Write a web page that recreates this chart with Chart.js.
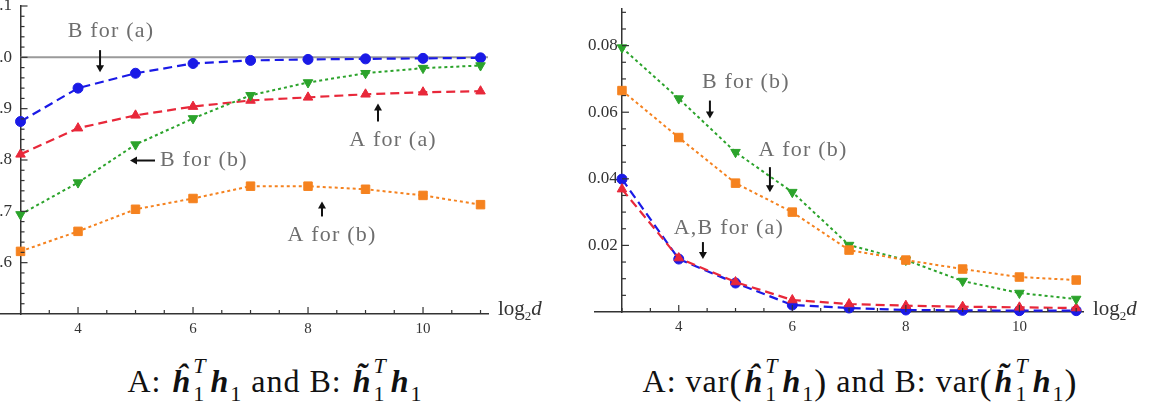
<!DOCTYPE html>
<html>
<head>
<meta charset="utf-8">
<title>h1 estimates vs log2 d</title>
<script src="https://cdn.jsdelivr.net/npm/chart.js@4.4.1/dist/chart.umd.min.js"></script>
<style>
  body { margin: 0; background: #fff; font-family: "Liberation Serif", "Times New Roman", serif; }
  #page { position: relative; width: 1149px; height: 406px; overflow: hidden; }
  .plot { position: absolute; top: 0; height: 345px; }
  #leftPlot { left: 0; width: 560px; }
  #rightPlot { left: 574px; width: 575px; }
  .axname { position: absolute; top: 298px; font-size: 21px; line-height: 21px; color: #333; white-space: nowrap; }
  .axname sub { font-size: 13px; }
  .cap { position: absolute; top: 352px; font-size: 32px; line-height: 30px; color: #111; white-space: nowrap; letter-spacing: 1px; transform: translateX(-50%); }
  .v { font-weight: bold; font-style: italic; margin-left: 2px; }
  .st { display: inline-block; vertical-align: -9px; font-size: 22px; line-height: 28px; margin-left: 2px; margin-right: 2px; }
  .st span { display: block; }
  .st .t { font-style: italic; }
  .sb { font-size: 22px; vertical-align: -9px; margin-left: 1px; }
  .par { font-size: 36px; vertical-align: -2px; font-weight: 300; }
</style>
</head>
<body>
<div id="page">
  <div class="plot" id="leftPlot"><canvas id="leftChart"></canvas></div>
  <div class="plot" id="rightPlot"><canvas id="rightChart"></canvas></div>
  <div class="axname" style="left:498px">log<sub>2</sub><i>d</i></div>
  <div class="axname" style="left:1093px">log<sub>2</sub><i>d</i></div>
  <div class="cap" style="left:275px">A: <span class="v">ĥ</span><span class="st"><span class="t">T</span><span>1</span></span><span class="v">h</span><span class="sb">1</span> and B: <span class="v">h̃</span><span class="st"><span class="t">T</span><span>1</span></span><span class="v">h</span><span class="sb">1</span></div>
  <div class="cap" style="left:860px">A: var<span class="par">(</span><span class="v">ĥ</span><span class="st"><span class="t">T</span><span>1</span></span><span class="v">h</span><span class="sb">1</span><span class="par">)</span> and B: var<span class="par">(</span><span class="v">h̃</span><span class="st"><span class="t">T</span><span>1</span></span><span class="v">h</span><span class="sb">1</span><span class="par">)</span></div>
</div>
<script>
// x 轴: log2 d
const log2d = [3, 4, 5, 6, 7, 8, 9, 10, 11];

// 左图: 内积均值
const meanAforA = [0.811, 0.862, 0.887, 0.904, 0.916, 0.922, 0.928, 0.932, 0.934];
const meanBforA = [0.875, 0.940, 0.969, 0.988, 0.994, 0.996, 0.997, 0.998, 0.999];
const meanAforB = [0.622, 0.661, 0.704, 0.725, 0.749, 0.749, 0.743, 0.731, 0.713];
const meanBforB = [0.694, 0.756, 0.830, 0.881, 0.926, 0.951, 0.969, 0.979, 0.984];

// 右图: 方差
const varAforA = [0.0369, 0.0162, 0.0090, 0.0036, 0.0024, 0.0019, 0.0016, 0.0014, 0.0012];
const varBforA = [0.0399, 0.0159, 0.0087, 0.0021, 0.0012, 0.0006, 0.0005, 0.0004, 0.0004];
const varAforB = [0.0665, 0.0524, 0.0387, 0.0300, 0.0186, 0.0156, 0.0129, 0.0105, 0.0096];
const varBforB = [0.0794, 0.0641, 0.0480, 0.0360, 0.0201, 0.0156, 0.0093, 0.0057, 0.0039];

// 刻度
const xTickValues = [4, 6, 8, 10];
const leftYTickValues = [0.6, 0.7, 0.8, 0.9, 1.0, 1.1];
const rightYTickValues = [0.02, 0.04, 0.06, 0.08];
const leftRefLine = 1.0;

const tickFont = { family: '"Liberation Serif", serif', size: 15 };
const yTickFont = { family: '"Liberation Serif", serif', size: 17 };
const axisColor = '#333';

function pts(ys) {
    return log2d.map((x, i) => ({ x: x, y: ys[i] }));
}

// 四条曲线的样式
function makeDatasets(aA, bA, aB, bB) {
    return [
        {
            label: 'A for (b)', data: pts(aB),
            borderColor: '#f5821f', backgroundColor: '#f5821f',
            borderWidth: 2, borderDash: [3, 3],
            pointStyle: 'rect', pointRadius: 6
        },
        {
            label: 'B for (b)', data: pts(bB),
            borderColor: '#2ba32b', backgroundColor: '#2ba32b',
            borderWidth: 2, borderDash: [3, 3],
            pointStyle: 'triangle', pointRotation: 180, pointRadius: 5.5
        },
        {
            label: 'A for (a)', data: pts(aA),
            borderColor: '#e8283a', backgroundColor: '#e8283a',
            borderWidth: 2.2, borderDash: [9, 5],
            pointStyle: 'triangle', pointRadius: 5.5
        },
        {
            label: 'B for (a)', data: pts(bA),
            borderColor: '#1a1ae6', backgroundColor: '#1a1ae6',
            borderWidth: 2.2, borderDash: [9, 5],
            pointStyle: 'circle', pointRadius: 5
        }
    ].map(d => Object.assign(d, { tension: 0, clip: false, fill: false, pointBorderWidth: 1 }));
}

// 向内的主/次刻度
const innerTicks = {
    id: 'innerTicks',
    afterDraw(chart, args, opts) {
        const { ctx, chartArea } = chart;
        const xs = chart.scales.x, ys = chart.scales.y;
        const x0 = xs.getPixelForValue(3);
        const yb = chartArea.bottom;
        ctx.save();
        ctx.strokeStyle = axisColor;
        ctx.lineWidth = 1.2;
        for (let k = Math.ceil(xs.min / 0.5); k * 0.5 <= xs.max; k++) {
            const v = k * 0.5;
            const p = xs.getPixelForValue(v);
            const major = v % 2 === 0;
            ctx.beginPath(); ctx.moveTo(p, yb); ctx.lineTo(p, yb - (major ? 7 : 4)); ctx.stroke();
        }
        const n = Math.round((ys.max - ys.min) / opts.yMinor);
        for (let k = 1; k <= n; k++) {
            const v = ys.min + k * opts.yMinor;
            const p = ys.getPixelForValue(v);
            const r = v / opts.yMajor;
            const major = Math.abs(r - Math.round(r)) < 1e-6;
            ctx.beginPath(); ctx.moveTo(x0, p); ctx.lineTo(x0 + (major ? 7 : 4), p); ctx.stroke();
        }
        ctx.restore();
    }
};

// 参考线 (y = 1)
const refLine = {
    id: 'refLine',
    beforeDatasetsDraw(chart, args, opts) {
        if (opts.value == null) return;
        const { ctx, chartArea } = chart;
        const p = chart.scales.y.getPixelForValue(opts.value);
        ctx.save();
        ctx.strokeStyle = '#9a9a9a';
        ctx.lineWidth = 2;
        ctx.beginPath();
        ctx.moveTo(chart.scales.x.getPixelForValue(3), p);
        ctx.lineTo(chartArea.right, p);
        ctx.stroke();
        ctx.restore();
    }
};

function drawArrow(ctx, x1, y1, x2, y2) {
    const a = Math.atan2(y2 - y1, x2 - x1);
    const hl = 7, hw = 4;
    ctx.beginPath(); ctx.moveTo(x1, y1);
    ctx.lineTo(x2 - Math.cos(a) * hl * 0.8, y2 - Math.sin(a) * hl * 0.8); ctx.stroke();
    ctx.beginPath();
    ctx.moveTo(x2, y2);
    ctx.lineTo(x2 - Math.cos(a) * hl - Math.sin(a) * hw, y2 - Math.sin(a) * hl + Math.cos(a) * hw);
    ctx.lineTo(x2 - Math.cos(a) * hl + Math.sin(a) * hw, y2 - Math.sin(a) * hl - Math.cos(a) * hw);
    ctx.closePath(); ctx.fill();
}

// 曲线标注
const notes = {
    id: 'notes',
    afterDatasetsDraw(chart, args, opts) {
        const { ctx } = chart;
        const xs = chart.scales.x, ys = chart.scales.y;
        ctx.save();
        ctx.font = '22px "Liberation Serif", serif';
        ctx.letterSpacing = '1.2px';
        ctx.fillStyle = '#6e6e6e';
        ctx.textBaseline = 'middle';
        opts.texts.forEach(t => {
            ctx.textAlign = t.align || 'center';
            ctx.fillText(t.text, xs.getPixelForValue(t.x), ys.getPixelForValue(t.y));
        });
        ctx.letterSpacing = '0px';
        ctx.strokeStyle = '#111';
        ctx.fillStyle = '#111';
        ctx.lineWidth = 2;
        opts.arrows.forEach(a => {
            drawArrow(ctx, xs.getPixelForValue(a.x1), ys.getPixelForValue(a.y1),
                xs.getPixelForValue(a.x2), ys.getPixelForValue(a.y2));
        });
        ctx.restore();
    }
};

function makeChart(id, cfg) {
    return new Chart(document.getElementById(id), {
        type: 'line',
        data: { datasets: cfg.datasets },
        plugins: [refLine, innerTicks, notes],
        options: {
            animation: false,
            responsive: true,
            maintainAspectRatio: false,
            events: [],
            layout: { padding: cfg.padding, autoPadding: false },
            scales: {
                x: {
                    type: 'linear', position: 'bottom',
                    min: cfg.xMin, max: cfg.xMax,
                    afterFit: s => {
                        s.height = cfg.xAxisHeight;
                        s.paddingLeft = 0; s.paddingRight = 0;
                    },
                    afterBuildTicks: s => { s.ticks = xTickValues.map(v => ({ value: v })); },
                    ticks: { font: tickFont, color: axisColor, padding: 6, autoSkip: false, maxRotation: 0, callback: v => String(v) },
                    grid: { drawOnChartArea: false, drawTicks: false },
                    border: { color: axisColor, width: 1.5 }
                },
                y: {
                    type: 'linear', position: { x: 3 },
                    min: cfg.yMin, max: cfg.yMax,
                    // 标签可以伸出绘图区, 不额外留边
                    afterFit: s => {
                        s.width = 0;
                        s.paddingTop = 0; s.paddingBottom = 0;
                    },
                    afterBuildTicks: s => { s.ticks = cfg.yTicks.map(v => ({ value: v })); },
                    // 轴放在数值位置时 padding 不起作用, 用尾部空格把标签推离轴线
                    ticks: { font: yTickFont, color: axisColor, autoSkip: false, callback: v => v.toFixed(cfg.yDigits) + cfg.yGap },
                    grid: { drawOnChartArea: false, drawTicks: false },
                    border: { color: axisColor, width: 1.5 }
                }
            },
            plugins: {
                legend: { display: false },
                tooltip: { enabled: false },
                refLine: { value: cfg.refValue },
                innerTicks: { yMinor: cfg.yMinor, yMajor: cfg.yMajor },
                notes: { texts: cfg.texts, arrows: cfg.arrows }
            }
        }
    });
}

makeChart('leftChart', {
    datasets: makeDatasets(meanAforA, meanBforA, meanAforB, meanBforB),
    padding: { left: 0, right: 72, top: 6, bottom: 0 },
    xAxisHeight: 31,
    xMin: 2.643, xMax: 11.13,
    yMin: 0.5, yMax: 1.1, yTicks: leftYTickValues, yDigits: 1, yGap: '  ',
    yMinor: 0.02, yMajor: 0.1,
    refValue: leftRefLine,
    texts: [
        { text: 'B for (a)', x: 4.574, y: 1.051 },
        { text: 'B for (b)', x: 5.426, y: 0.799, align: 'left' },
        { text: 'A for (a)', x: 9.478, y: 0.838 },
        { text: 'A for (b)', x: 8.417, y: 0.653 }
    ],
    arrows: [
        { x1: 4.383, y1: 1.014, x2: 4.383, y2: 0.971 },
        { x1: 5.339, y1: 0.799, x2: 4.904, y2: 0.799 },
        { x1: 9.217, y1: 0.875, x2: 9.217, y2: 0.910 },
        { x1: 8.243, y1: 0.690, x2: 8.243, y2: 0.719 }
    ]
});

makeChart('rightChart', {
    datasets: makeDatasets(varAforA, varBforA, varAforB, varBforB),
    padding: { left: 21, right: 66, top: 9, bottom: 0 },
    xAxisHeight: 33,
    xMin: 2.525, xMax: 11.12,
    yMin: 0, yMax: 0.091, yTicks: rightYTickValues, yDigits: 2, yGap: ' ',
    yMinor: 0.005, yMajor: 0.02,
    refValue: null,
    texts: [
        { text: 'B for (b)', x: 5.183, y: 0.0689 },
        { text: 'A for (b)', x: 6.187, y: 0.0485 },
        { text: 'A,B for (a)', x: 4.884, y: 0.0252 }
    ],
    arrows: [
        { x1: 4.549, y1: 0.0635, x2: 4.549, y2: 0.0581 },
        { x1: 5.606, y1: 0.0435, x2: 5.606, y2: 0.0360 },
        { x1: 4.426, y1: 0.0210, x2: 4.426, y2: 0.0159 }
    ]
});
</script>
</body>
</html>
